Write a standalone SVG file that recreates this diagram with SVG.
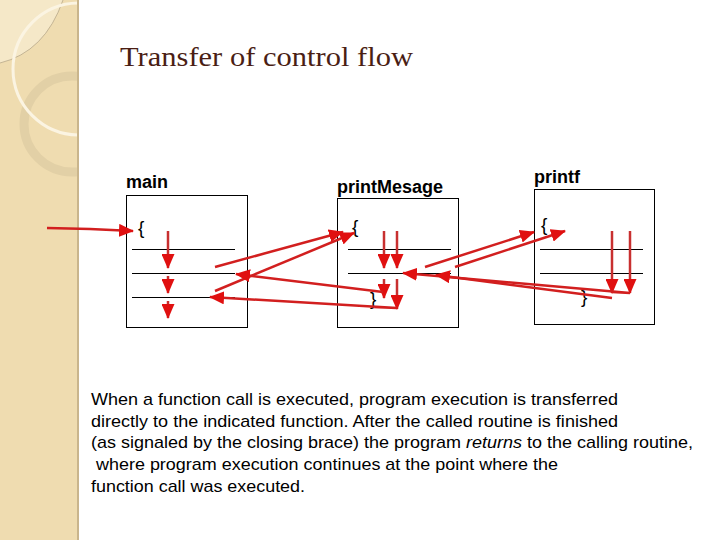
<svg xmlns="http://www.w3.org/2000/svg" width="720" height="540" viewBox="0 0 720 540">
<style>
.lbl{font-family:"Liberation Sans",Arial,sans-serif;font-weight:bold;font-size:18px;fill:#000}
.brace{font-family:"Liberation Sans",Arial,sans-serif;font-size:19px;fill:#000}
.body{font-family:"Liberation Sans",Arial,sans-serif;font-size:17px;fill:#000}
.box{fill:#fff;stroke:#000;stroke-width:1}
.sep{stroke:#000;stroke-width:1}
.flow{fill:none;stroke:#d21f1f;stroke-width:2.5;marker-end:url(#ah)}
.down{fill:none;stroke:#c83030;stroke-width:2.5;marker-end:url(#ahd)}
</style>
<defs>
<marker id="ah" markerUnits="userSpaceOnUse" markerWidth="15" markerHeight="13" refX="14" refY="6.5" orient="auto">
<path d="M0,0 L15,6.5 L0,13 z" fill="#e01010"/>
</marker>
<marker id="ahd" markerUnits="userSpaceOnUse" markerWidth="15" markerHeight="13" refX="14" refY="6.5" orient="auto">
<path d="M0,0 L15,6.5 L0,13 z" fill="#e01010"/>
</marker>
<clipPath id="band"><rect x="0" y="0" width="78" height="540"/></clipPath>
</defs>
<rect x="0" y="0" width="720" height="540" fill="#fff"/>
<g id="sidebar">
<rect x="0" y="0" width="78" height="540" fill="#efdcb0"/>
<g clip-path="url(#band)">
<path d="M0,63 Q45,52 63,0 L0,0 z" fill="#f5e8c8"/>
<path d="M0,63 Q45,52 63,0" fill="none" stroke="#b8a88a" stroke-width="0.8"/>
<circle cx="72" cy="124" r="48" fill="none" stroke="#e2d0a6" stroke-width="9"/>
<circle cx="79" cy="69" r="66" fill="none" stroke="#fbf4e2" stroke-width="3"/>
</g>
<rect x="77" y="0" width="2" height="540" fill="#c9b58c"/>
</g>
<text x="120" y="66" font-family="'Liberation Serif','Times New Roman',serif" font-size="28" fill="#4a1e14" textLength="293" lengthAdjust="spacingAndGlyphs">Transfer of control flow</text>
<g id="main">
<text class="lbl" x="126" y="188">main</text>
<rect class="box" x="126.5" y="195.5" width="121" height="132"/>
<text class="brace" x="138" y="234">{</text>
<line class="sep" x1="132" y1="249.5" x2="235" y2="249.5"/>
<line class="sep" x1="132" y1="273.5" x2="235" y2="273.5"/>
<line class="sep" x1="132" y1="297.5" x2="235" y2="297.5"/>
</g>
<g id="printMesage">
<text class="lbl" x="337" y="193">printMesage</text>
<rect class="box" x="337.5" y="198.5" width="121" height="129"/>
<text class="brace" x="352" y="233">{</text>
<text class="brace" x="370" y="305">}</text>
<line class="sep" x1="348" y1="249.5" x2="451" y2="249.5"/>
<line class="sep" x1="348" y1="273.5" x2="451" y2="273.5"/>
</g>
<g id="printf">
<text class="lbl" x="534" y="183">printf</text>
<rect class="box" x="534.5" y="189.5" width="120" height="135"/>
<text class="brace" x="541" y="231">{</text>
<text class="brace" x="581" y="303">}</text>
<line class="sep" x1="540" y1="249.5" x2="643" y2="249.5"/>
<line class="sep" x1="540" y1="273.5" x2="643" y2="273.5"/>
</g>
<g id="connectors">
<path class="flow" d="M47,228 L90,229 L133,231"/>
<path class="down" d="M168,231 V268"/>
<path class="down" d="M168,276 V293"/>
<path class="down" d="M168,301 V318"/>
<path class="flow" d="M215,267 L343,232"/>
<path class="flow" d="M215,291 L354,233"/>
<path class="down" d="M384,231 V268"/>
<path class="down" d="M397,231 V268"/>
<path class="down" d="M384,279 V298"/>
<path class="down" d="M397,279 V309"/>
<path class="flow" d="M383,292 L236,274"/>
<path class="flow" d="M373,307 L397,308 L210,297"/>
<path class="flow" d="M425,267 L534,232"/>
<path class="flow" d="M455,267 L565,231"/>
<path class="down" d="M612,231 V293"/>
<path class="down" d="M630,231 V293"/>
<path class="flow" d="M612,292 L630,293 L403,273"/>
<path class="flow" d="M612,298 L436,275"/>
</g>
<g id="caption">
<text class="body" x="91" y="405" textLength="527" lengthAdjust="spacingAndGlyphs">When a function call is executed, program execution is transferred</text>
<text class="body" x="91" y="427" textLength="527" lengthAdjust="spacingAndGlyphs">directly to the indicated function. After the called routine is finished</text>
<text class="body" x="91" y="448" textLength="602" lengthAdjust="spacingAndGlyphs">(as signaled by the closing brace) the program <tspan font-style="italic">returns</tspan> to the calling routine,</text>
<text class="body" x="96" y="470" textLength="462" lengthAdjust="spacingAndGlyphs">where program execution continues at the point where the</text>
<text class="body" x="91" y="492" textLength="214" lengthAdjust="spacingAndGlyphs">function call was executed.</text>
</g>
</svg>
